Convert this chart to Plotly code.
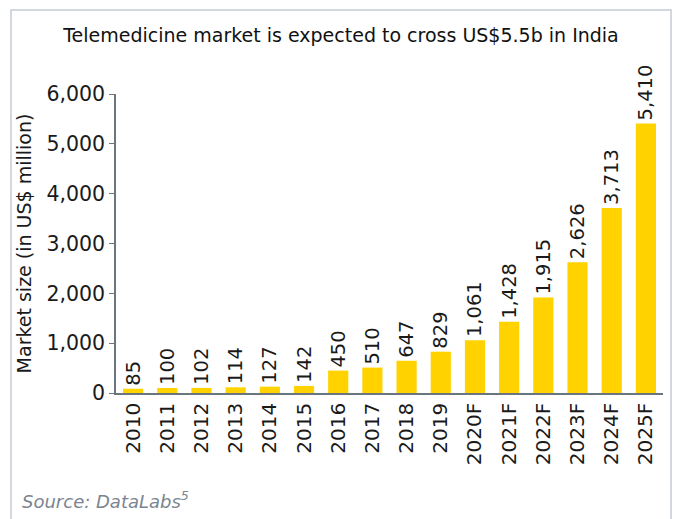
import plotly.graph_objects as go

years = ["2010", "2011", "2012", "2013", "2014", "2015", "2016", "2017",
         "2018", "2019", "2020F", "2021F", "2022F", "2023F", "2024F", "2025F"]
market_size = [85, 100, 102, 114, 127, 142, 450, 510, 647, 829,
               1061, 1428, 1915, 2626, 3713, 5410]
y_ticks = [0, 1000, 2000, 3000, 4000, 5000, 6000]

FONT = "DejaVu Sans"
L, R, T, B = 116, 12, 94, 126
W, H = 675, 519
PW, PH = W - L - R, H - T - B

def px(x):
    return (x - L) / PW

def py(y):
    return (H - B - y) / PH

fig = go.Figure()
fig.add_trace(go.Bar(
    x=years, y=market_size,
    marker=dict(color="#FFD200", line=dict(width=0)),
    texttemplate="%{y:,}", textposition="outside", textangle=-90,
    constraintext="none",
    textfont=dict(family=FONT, size=19.5, color="#1a1a1a"),
    cliponaxis=False,
))

fig.update_layout(
    width=W, height=H,
    paper_bgcolor="white", plot_bgcolor="white",
    margin=dict(l=L, r=R, t=T, b=B, autoexpand=False),
    bargap=0.41,
    showlegend=False,
    font=dict(family=FONT, color="#1a1a1a"),
    title=dict(text="Telemedicine market is expected to cross US$5.5b in India",
               x=341 / W, xref="container", xanchor="center",
               y=1 - 35 / H, yref="container", yanchor="middle",
               font=dict(family=FONT, size=19, color="#111111")),
    xaxis=dict(
        tickangle=-90, tickfont=dict(family=FONT, size=20, color="#1a1a1a"),
        showline=True, linecolor="#6b7580", linewidth=1.5,
        ticks="", showgrid=False, automargin=False,
    ),
    yaxis=dict(
        range=[0, 6000], tickvals=y_ticks, tickformat=",",
        tickfont=dict(family=FONT, size=20.5, color="#1a1a1a"),
        showline=True, linecolor="#6b7580", linewidth=1.5,
        ticks="outside", ticklen=5, tickcolor="#6b7580",
        showgrid=False, zeroline=False, automargin=False,
        title=dict(text="Market size (in US$ million)", standoff=10,
                   font=dict(family=FONT, size=19, color="#1a1a1a")),
    ),
    shapes=[dict(type="rect", xref="paper", yref="paper",
                 x0=px(11), x1=px(671), y0=py(540), y1=py(10),
                 line=dict(color="#c5cbd3", width=1.5), layer="below")],
    annotations=[dict(text="<i>Source: DataLabs<sup>5</sup></i>", xref="paper", yref="paper",
                      x=px(20), y=py(500),
                      xanchor="left", yanchor="middle", showarrow=False,
                      font=dict(family=FONT, size=18, color="#7a8591"))],
)

fig.write_html("out.html", config={"displayModeBar": False})

with open("out.html", "r", encoding="utf-8") as f:
    html = f.read()
html = html.replace("<head>", "<head><style>html,body{margin:0;padding:0;overflow:hidden;}</style>", 1)
with open("out.html", "w", encoding="utf-8") as f:
    f.write(html)
